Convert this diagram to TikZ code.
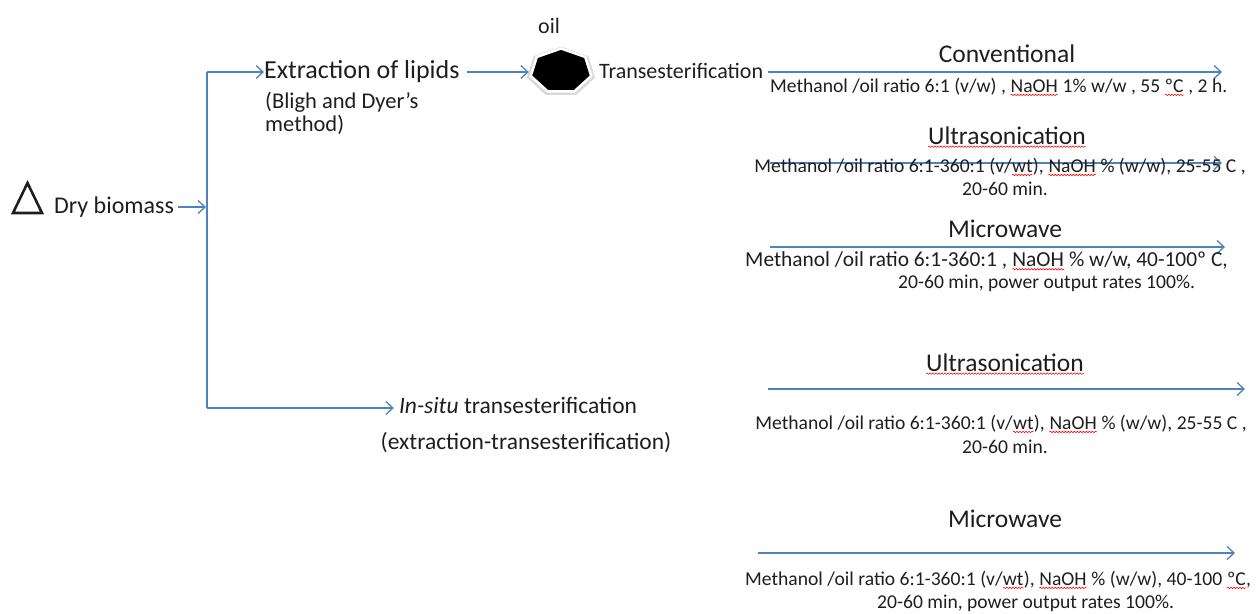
\documentclass[tikz,border=0pt]{standalone}
\usepackage{fontspec}
\setmainfont{Carlito}
\usetikzlibrary{arrows.meta,decorations.pathmorphing}
\definecolor{arr}{HTML}{4F81BD}
\definecolor{ink}{HTML}{1E1E1E}
\newcommand{\spl}[1]{\tikz[baseline=(w.base)]{\node[inner sep=0pt,outer sep=0pt,anchor=base](w){#1};\draw[red,line width=0.6pt,decorate,decoration={snake,amplitude=0.7pt,segment length=3pt}]([yshift=-2.5pt]w.base west)--([yshift=-2.5pt]w.base east);}}
\begin{document}
\begin{tikzpicture}[x=1pt,y=-1pt,
  conn/.style={draw=arr,line width=1.3pt,-{Straight Barb[length=7pt,width=13pt,line width=1.3pt]}},
  link/.style={draw=arr,line width=1.3pt},
  big/.style={text=ink,inner sep=0pt,font=\fontsize{25.5}{30}\selectfont},
  mid/.style={text=ink,inner sep=0pt,font=\fontsize{22}{25}\selectfont},
  small/.style={text=ink,inner sep=0pt,font=\fontsize{19.6}{23}\selectfont}]
\useasboundingbox (0,0) rectangle (1257,613);
% left part
\draw[ink,line width=2.6pt,line join=miter] (13,213) -- (27.5,183) -- (42,213) -- cycle;
\node[big,anchor=west,font=\fontsize{24}{28}\selectfont] (dry) at (54,207) {Dry biomass};
\coordinate (split) at (206,207);
\coordinate (top) at (207,72);
\coordinate (bot) at (207,408);
\draw[conn] ([xshift=4pt]dry.east |- split) -- (split);
\draw[link] (top) -- (bot);
\node[big,anchor=west,font=\fontsize{26}{30}\selectfont] (extr) at (264,72) {Extraction of lipids};
\node[mid,anchor=north west,align=left,font=\fontsize{22.5}{23}\selectfont] (bligh) at (265,92) {(Bligh and Dyer’s\\method)};
\draw[conn] (top) -- (top -| extr.west);
\node[big,anchor=center,font=\fontsize{23.5}{28}\selectfont] (ins1) at (518,405) {\textit{In-situ} transesterification};
\node[big,anchor=center,font=\fontsize{23.5}{28}\selectfont] (ins2) at (526,443) {(extraction-transesterification)};
\draw[conn] (bot) -- ([xshift=-5pt]bot -| ins1.west);
% oil heptagon
\node[minimum width=64pt,minimum height=44pt,inner sep=0pt] (hept) at (561,71) {};
\fill[gray!30] plot[samples at={0,...,7}] ({561+35*cos(90+\x*360/7)},{72-25.5*sin(90+\x*360/7)}) -- cycle;
\filldraw[fill=black,draw=white,line width=2.5pt,line join=round] plot[samples at={0,...,7}] ({561+31*cos(90+\x*360/7)},{71-22.5*sin(90+\x*360/7)}) -- cycle;
\node[mid,anchor=center] (oil) at (549,26) {oil};
\draw[conn] ([xshift=7pt]extr.east |- top) -- (top -| hept.west);
\node[mid,anchor=west] (trans) at (599,71) {Transesterification};
% conventional
\coordinate (c1) at (1222,72);
\draw[conn] ([xshift=5pt]trans.east |- c1) -- (c1);
\node[big] (conv) at (1007,54) {Conventional};
\node[small,anchor=west] (convp) at (770,87) {Methanol /oil ratio 6:1 (v/w) , \spl{NaOH} 1\% w/w ,  55 \spl{ºC} , 2 h.};
% ultrasonication (extracted oil)
\coordinate (u1s) at (770,163);
\coordinate (u1e) at (1222,163);
\draw[conn] (u1s) -- (u1e);
\node[big] (ult1) at (1007,137) {\spl{Ultrasonication}};
\node[small] (ult1a) at (1000,167) {Methanol /oil ratio 6:1-360:1 (v/\spl{wt}), \spl{NaOH} \% (w/w), 25-55 C ,};
\node[small] (ult1b) at (1005,189) {20-60 min.};
% microwave (extracted oil)
\coordinate (m1s) at (770,247);
\coordinate (m1e) at (1225,247);
\draw[conn] (m1s) -- (m1e);
\node[big] (mic1) at (1005,229) {Microwave};
\node[small,anchor=west,font=\fontsize{21.4}{23}\selectfont] (mic1a) at (745,261) {Methanol /oil ratio 6:1-360:1 , \spl{NaOH} \% w/w, 40-100º C,};
\node[small,anchor=west] (mic1b) at (898,283) {20-60 min, power output rates 100\%.};
% ultrasonication (in situ)
\coordinate (u2s) at (768,389);
\coordinate (u2e) at (1245,389);
\draw[conn] (u2s) -- (u2e);
\node[big] (ult2) at (1005,364) {\spl{Ultrasonication}};
\node[small] (ult2a) at (1001,424) {Methanol /oil ratio 6:1-360:1 (v/\spl{wt}), \spl{NaOH} \% (w/w), 25-55 C ,};
\node[small] (ult2b) at (1005,447) {20-60 min.};
% microwave (in situ)
\coordinate (m2s) at (758,553);
\coordinate (m2e) at (1235,553);
\draw[conn] (m2s) -- (m2e);
\node[big] (mic2) at (1005,519) {Microwave};
\node[small,anchor=west] (mic2a) at (745,580) {Methanol /oil ratio 6:1-360:1 (v/\spl{wt}), \spl{NaOH} \% (w/w), 40-100 \spl{ºC},};
\node[small,anchor=west] (mic2b) at (877,603) {20-60 min, power output rates 100\%.};
\end{tikzpicture}
\end{document}
